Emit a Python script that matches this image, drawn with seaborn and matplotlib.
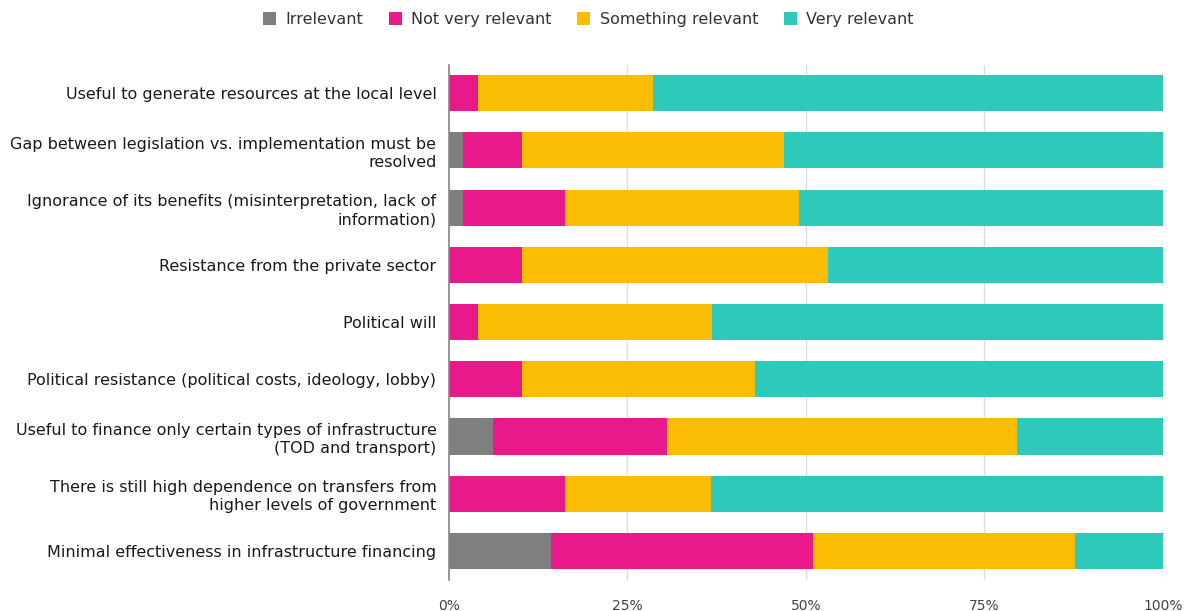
import numpy as np
import pandas as pd
import matplotlib
matplotlib.use("Agg")
import matplotlib.pyplot as plt
from matplotlib.patches import Patch
import seaborn as sns

items = [
    "Useful to generate resources at the local level",
    "Gap between legislation vs. implementation must be\nresolved",
    "Ignorance of its benefits (misinterpretation, lack of\ninformation)",
    "Resistance from the private sector",
    "Political will",
    "Political resistance (political costs, ideology, lobby)",
    "Useful to finance only certain types of infrastructure\n(TOD and transport)",
    "There is still high dependence on transfers from\nhigher levels of government",
    "Minimal effectiveness in infrastructure financing",
]
levels = ["Irrelevant", "Not very relevant", "Something relevant", "Very relevant"]
colors = ["#7f7f7f", "#e8198b", "#fbbc04", "#2dc9bb"]

irrelevant = [0.0, 2.0, 2.0, 0.0, 0.0, 0.0, 6.1, 0.0, 14.3]
not_very = [4.1, 8.2, 14.3, 10.2, 4.1, 10.2, 24.5, 16.3, 36.7]
something = [24.5, 36.7, 32.7, 42.9, 32.7, 32.7, 49.0, 20.4, 36.7]
very = [71.4, 53.1, 51.0, 46.9, 63.2, 57.1, 20.4, 63.3, 12.3]

shares = np.array([irrelevant, not_very, something, very])
cum = np.cumsum(shares, axis=0)

sns.set_theme(style="white")
plt.rcParams["font.family"] = ["DejaVu Sans"]

fig = plt.figure(figsize=(11.89, 6.11), dpi=100)
ax = fig.add_axes([0.3776, 0.0514, 0.6005, 0.843])

# stacked bars: draw cumulative totals from the widest down
for k in range(len(levels) - 1, -1, -1):
    df = pd.DataFrame({"item": items, "value": cum[k]})
    sns.barplot(data=df, x="value", y="item", orient="h", order=items,
                color=colors[k], saturation=1, width=0.63, ax=ax,
                edgecolor="none", linewidth=0)

ax.set_xlim(0, 100)
ax.set_ylim(len(items) - 0.5, -0.5)
ax.set_xticks([0, 25, 50, 75, 100])
ax.set_xticklabels(["0%", "25%", "50%", "75%", "100%"], color="#444444", fontsize=10)
ax.set_xlabel("")
ax.set_ylabel("")
ax.tick_params(axis="y", labelsize=11.5, colors="#1a1a1a", length=0, pad=9)
ax.tick_params(axis="x", length=0, pad=14)
for lab in ax.get_yticklabels():
    lab.set_multialignment("right")
    lab.set_linespacing(1.25)
ax.set_axisbelow(True)
ax.grid(axis="x", color="#dddddd", linewidth=1)
ax.grid(axis="y", visible=False)
for s in ["top", "right", "bottom"]:
    ax.spines[s].set_visible(False)
ax.spines["left"].set_color("#888888")
ax.spines["left"].set_linewidth(1.2)

handles = [Patch(facecolor=c, edgecolor="none", label=l) for c, l in zip(colors, levels)]
fig.legend(handles=handles, loc="center", bbox_to_anchor=(0.495, 0.968), ncol=4,
           frameon=False, fontsize=11.5, handlelength=0.8, handleheight=0.8,
           columnspacing=1.6, handletextpad=0.6, labelcolor="#333333")

fig.savefig("out.png", dpi=100)
